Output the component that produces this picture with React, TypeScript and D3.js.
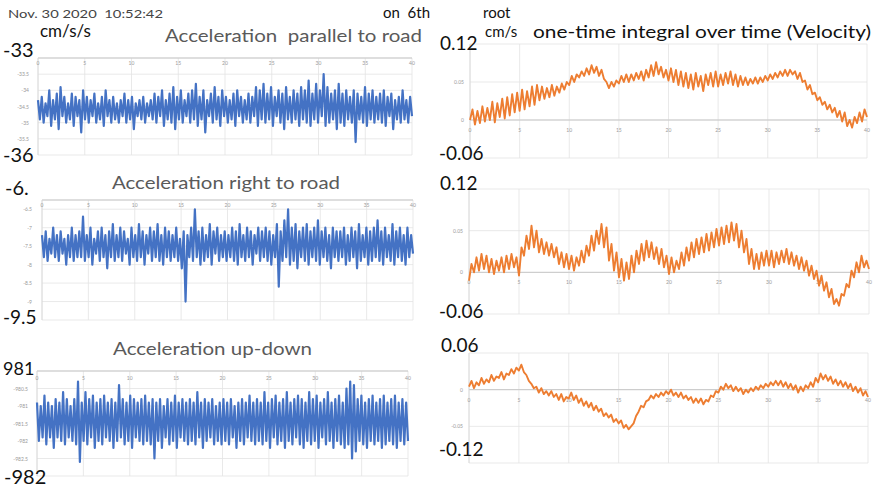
import React from 'react';
import * as d3 from 'd3';

// seconds on the horizontal axis of every panel
const timeTicks = [0, 5, 10, 15, 20, 25, 30, 35, 40];

// acceleration, cm/s/s
const accParallel = [
  -34.3, -34.9, -34.2, -35.0, -34.4, -34.8, -34.0, -35.1, -34.3, -34.9, -34.1, -35.2, -33.9, -34.8, -34.2, -35.0, -34.4, -34.9, -34.1, -35.1,
  -34.2, -34.8, -34.3, -35.3, -34.0, -34.9, -34.2, -35.0, -34.3, -34.8, -34.1, -35.0, -34.4, -34.9, -34.2, -35.1, -34.0, -34.8, -34.3, -35.0,
  -34.2, -34.9, -34.4, -35.0, -34.3, -34.8, -34.1, -35.0, -34.3, -34.9, -34.2, -35.2, -34.4, -34.8, -34.3, -34.9, -34.2, -35.0, -34.4, -34.8,
  -34.3, -34.9, -34.1, -35.0, -34.2, -34.8, -34.0, -35.1, -34.3, -34.9, -34.1, -35.0, -33.9, -35.2, -34.2, -34.9, -34.0, -35.0, -34.3, -34.8,
  -34.1, -35.0, -34.0, -34.9, -33.8, -35.1, -34.2, -34.9, -34.0, -35.3, -34.3, -34.8, -34.1, -35.0, -33.9, -34.9, -34.2, -35.1, -34.0, -34.8,
  -34.2, -35.0, -34.3, -34.9, -34.1, -35.1, -34.0, -34.8, -34.2, -35.0, -34.3, -34.9, -34.1, -35.0, -34.2, -34.8, -33.9, -35.1, -34.0, -34.9,
  -33.8, -35.0, -34.1, -34.9, -33.9, -35.1, -34.2, -34.8, -34.0, -35.0, -34.1, -35.2, -33.9, -34.9, -34.2, -35.0, -34.0, -34.9, -34.1, -35.1,
  -33.9, -34.9, -34.0, -35.0, -33.7, -35.1, -34.1, -34.9, -33.8, -35.0, -34.0, -34.8, -33.5, -35.1, -33.9, -35.0, -34.1, -34.9, -34.0, -35.2,
  -33.8, -35.0, -34.1, -35.1, -34.0, -34.9, -34.2, -35.0, -34.0, -35.6, -34.1, -34.9, -34.2, -35.0, -33.9, -35.1, -34.1, -34.9, -34.0, -35.0,
  -34.2, -34.9, -34.1, -35.0, -34.0, -35.1, -34.2, -34.8, -34.1, -35.2, -34.3, -34.9, -34.2, -35.0, -34.0, -34.9, -34.3, -35.0, -34.2, -34.8,
];

const accRight = [
  -7.2, -7.8, -7.1, -7.9, -7.3, -7.7, -7.0, -7.8, -7.2, -7.9, -7.1, -7.7, -7.3, -8.0, -7.2, -7.8, -7.0, -7.9, -7.2, -7.8,
  -7.1, -7.8, -6.7, -7.9, -7.2, -7.8, -7.0, -8.0, -7.3, -7.7, -7.1, -7.9, -7.0, -7.8, -7.2, -8.1, -7.1, -7.8, -6.9, -7.9,
  -7.2, -7.8, -7.0, -7.9, -7.1, -7.7, -7.3, -8.0, -7.0, -7.8, -7.2, -7.9, -6.9, -7.8, -7.1, -8.0, -7.2, -7.7, -7.0, -7.9,
  -7.1, -7.8, -6.9, -7.9, -7.2, -8.0, -7.0, -7.8, -7.1, -7.9, -7.2, -7.8, -7.0, -7.9, -7.3, -8.1, -7.1, -9.0, -7.2, -7.8,
  -7.0, -7.9, -6.5, -7.8, -7.1, -8.0, -7.0, -7.9, -7.2, -7.8, -6.9, -8.0, -7.1, -7.7, -7.0, -7.9, -7.2, -7.8, -7.1, -7.9,
  -7.2, -7.8, -7.0, -7.9, -7.1, -8.0, -6.9, -7.8, -7.2, -7.9, -7.0, -7.8, -7.1, -8.0, -7.2, -7.7, -7.0, -7.9, -7.1, -7.8,
  -7.0, -7.9, -7.1, -8.0, -7.2, -7.8, -6.9, -8.6, -7.1, -7.9, -6.8, -7.8, -6.5, -8.0, -7.0, -7.9, -6.9, -8.1, -7.1, -7.8,
  -7.0, -7.9, -6.9, -8.0, -7.1, -7.8, -7.0, -7.9, -6.8, -8.0, -7.1, -7.8, -7.0, -7.9, -7.2, -8.1, -7.0, -7.8, -7.1, -7.9,
  -7.1, -7.8, -7.0, -8.0, -7.2, -7.9, -7.0, -7.8, -7.1, -8.1, -6.9, -7.9, -7.2, -7.8, -7.0, -8.0, -7.1, -7.9, -7.0, -7.8,
  -6.8, -7.9, -7.1, -8.0, -7.0, -7.8, -7.2, -7.9, -6.9, -8.0, -7.1, -7.8, -7.0, -7.9, -7.2, -8.0, -7.0, -7.8, -7.2, -7.7,
];

const accUpDown = [
  -980.9, -982.0, -981.0, -981.9, -980.7, -982.1, -980.9, -981.9, -981.0, -982.2, -980.8, -981.9, -980.9, -982.0, -980.6, -982.1, -980.8, -981.9, -981.0, -982.0,
  -980.8, -982.1, -980.3, -982.6, -980.9, -982.0, -980.6, -982.1, -980.8, -981.9, -980.7, -982.2, -980.9, -982.0, -980.8, -982.1, -980.7, -981.9, -980.9, -982.0,
  -980.8, -982.2, -980.9, -982.0, -980.4, -981.9, -980.8, -982.1, -980.9, -982.0, -980.7, -982.2, -980.8, -981.9, -980.9, -982.0, -980.8, -982.1, -980.7, -982.0,
  -980.9, -982.1, -980.8, -982.5, -980.9, -982.0, -980.8, -982.2, -981.0, -981.9, -980.8, -982.1, -980.9, -982.0, -980.7, -982.2, -980.9, -981.9, -980.8, -982.0,
  -980.9, -982.1, -980.8, -982.0, -980.9, -982.1, -980.6, -981.9, -980.9, -982.2, -980.8, -982.0, -980.9, -981.9, -980.8, -982.1, -981.0, -982.0, -980.9, -982.1,
  -980.8, -982.0, -980.9, -982.1, -980.8, -981.9, -981.0, -982.2, -980.9, -982.0, -980.8, -982.1, -980.9, -981.9, -980.7, -982.0, -980.9, -982.1, -980.8, -982.0,
  -980.9, -982.1, -980.6, -982.0, -980.9, -982.2, -980.8, -981.9, -980.7, -982.1, -980.9, -982.0, -980.8, -982.2, -980.6, -982.0, -980.9, -982.1, -980.8, -981.9,
  -980.7, -982.1, -980.8, -982.2, -980.9, -982.0, -980.6, -982.1, -980.8, -982.0, -980.7, -982.2, -980.9, -981.9, -980.8, -982.1, -980.6, -982.0, -980.9, -982.2,
  -980.8, -982.0, -980.7, -982.1, -980.9, -982.2, -980.5, -982.1, -980.3, -982.5, -980.4, -982.3, -980.8, -982.0, -980.7, -982.1, -980.9, -982.2, -980.8, -982.0,
  -980.7, -982.1, -980.9, -982.0, -980.8, -982.2, -980.7, -982.1, -980.9, -982.0, -980.8, -982.1, -980.7, -982.2, -980.9, -982.0, -980.8, -982.1, -980.9, -982.0,
];

// velocity, cm/s (orange traces), 4 readings per second
const velParallel = [
  0.000, 0.014, -0.006, 0.012, -0.004, 0.018, -0.002, 0.016, 0.000, 0.024, -0.003, 0.022, 0.004, 0.028, 0.002, 0.030,
  0.006, 0.034, 0.010, 0.036, 0.012, 0.040, 0.014, 0.038, 0.018, 0.044, 0.020, 0.046, 0.026, 0.044, 0.028, 0.042,
  0.030, 0.046, 0.032, 0.044, 0.036, 0.048, 0.040, 0.050, 0.046, 0.058, 0.050, 0.060, 0.056, 0.064, 0.058, 0.068,
  0.060, 0.072, 0.062, 0.070, 0.058, 0.066, 0.054, 0.050, 0.042, 0.050, 0.044, 0.052, 0.048, 0.058, 0.050, 0.060,
  0.050, 0.060, 0.052, 0.062, 0.054, 0.064, 0.052, 0.066, 0.056, 0.072, 0.058, 0.076, 0.060, 0.070, 0.056, 0.066,
  0.052, 0.068, 0.050, 0.066, 0.046, 0.064, 0.044, 0.062, 0.042, 0.060, 0.040, 0.062, 0.044, 0.058, 0.038, 0.060,
  0.046, 0.062, 0.044, 0.064, 0.044, 0.060, 0.046, 0.062, 0.048, 0.064, 0.046, 0.060, 0.044, 0.058, 0.046, 0.056,
  0.046, 0.054, 0.048, 0.056, 0.048, 0.056, 0.050, 0.058, 0.052, 0.060, 0.054, 0.062, 0.056, 0.064, 0.058, 0.066,
  0.058, 0.066, 0.060, 0.064, 0.054, 0.062, 0.050, 0.052, 0.040, 0.046, 0.034, 0.036, 0.026, 0.030, 0.020, 0.024,
  0.014, 0.020, 0.010, 0.016, 0.004, 0.012, -0.002, 0.010, -0.008, 0.000, -0.010, 0.004, -0.004, 0.010, -0.002, 0.014,
  0.004,
];

const velRight = [
  -0.010, 0.010, 0.000, 0.018, 0.002, 0.022, 0.004, 0.020, 0.000, 0.016, -0.002, 0.014, 0.002, 0.018, 0.000, 0.020,
  0.004, 0.022, 0.006, 0.018, -0.004, 0.030, 0.020, 0.044, 0.028, 0.056, 0.030, 0.050, 0.024, 0.040, 0.022, 0.036,
  0.020, 0.034, 0.018, 0.030, 0.010, 0.024, 0.006, 0.022, 0.004, 0.020, 0.002, 0.018, 0.008, 0.026, 0.012, 0.032,
  0.020, 0.044, 0.026, 0.050, 0.034, 0.058, 0.030, 0.054, 0.014, 0.034, 0.002, 0.024, -0.006, 0.016, -0.010, 0.012,
  -0.008, 0.020, 0.000, 0.026, 0.010, 0.034, 0.014, 0.038, 0.018, 0.036, 0.016, 0.030, 0.010, 0.028, 0.006, 0.020,
  -0.002, 0.018, 0.000, 0.014, 0.004, 0.024, 0.008, 0.030, 0.014, 0.036, 0.018, 0.040, 0.022, 0.042, 0.024, 0.046,
  0.026, 0.048, 0.030, 0.052, 0.032, 0.054, 0.034, 0.056, 0.036, 0.060, 0.038, 0.058, 0.030, 0.050, 0.024, 0.040,
  0.010, 0.028, 0.004, 0.022, 0.004, 0.024, 0.008, 0.026, 0.008, 0.026, 0.006, 0.024, 0.010, 0.026, 0.012, 0.028,
  0.010, 0.024, 0.008, 0.020, 0.004, 0.018, 0.002, 0.014, -0.004, 0.008, -0.008, 0.002, -0.016, -0.004, -0.022, -0.012,
  -0.030, -0.020, -0.038, -0.032, -0.040, -0.026, -0.028, -0.014, -0.018, 0.002, -0.006, 0.012, 0.000, 0.020, 0.006, 0.014,
  0.004,
];

const velUpDown = [
  0.004, 0.012, 0.002, 0.010, 0.006, 0.016, 0.008, 0.014, 0.010, 0.020, 0.012, 0.018, 0.016, 0.024, 0.014, 0.022,
  0.020, 0.028, 0.022, 0.030, 0.026, 0.034, 0.024, 0.020, 0.012, 0.008, 0.002, 0.004, -0.004, 0.002, -0.006, -0.002,
  -0.008, -0.002, -0.010, -0.006, -0.014, -0.006, -0.016, -0.010, -0.012, -0.004, -0.014, -0.008, -0.018, -0.012, -0.022, -0.016,
  -0.024, -0.018, -0.028, -0.022, -0.030, -0.026, -0.036, -0.032, -0.038, -0.034, -0.044, -0.040, -0.046, -0.042, -0.052, -0.048,
  -0.054, -0.050, -0.046, -0.036, -0.030, -0.022, -0.024, -0.016, -0.014, -0.008, -0.012, -0.006, -0.010, -0.004, -0.008, -0.002,
  -0.006, 0.000, -0.008, -0.004, -0.010, -0.004, -0.012, -0.008, -0.014, -0.010, -0.018, -0.012, -0.018, -0.012, -0.020, -0.014,
  -0.016, -0.008, -0.010, -0.002, -0.004, 0.004, 0.000, 0.008, 0.002, 0.006, -0.002, 0.004, -0.002, 0.002, -0.006, 0.000,
  -0.004, 0.002, -0.002, 0.004, 0.000, 0.006, 0.002, 0.008, 0.004, 0.010, 0.006, 0.012, 0.006, 0.012, 0.004, 0.010,
  0.002, 0.008, 0.000, 0.006, -0.004, 0.004, -0.002, 0.006, 0.002, 0.010, 0.004, 0.016, 0.010, 0.022, 0.014, 0.020,
  0.012, 0.018, 0.008, 0.014, 0.006, 0.012, 0.004, 0.010, 0.002, 0.008, -0.002, 0.004, -0.004, 0.002, -0.008, -0.002,
  -0.010,
];

const parallelTicks = [-33, -33.5, -34, -34.5, -35, -35.5, -36];
const rightTicks = [-6.25, -6.5, -7, -7.5, -8, -8.5, -9, -9.5];
const upDownTicks = [-980, -980.5, -981, -981.5, -982, -982.5, -983];
const velTicksHigh = [0.1, 0.05, 0, -0.05];
const velTicksLow = [0.05, 0, -0.05, -0.1];

const BLUE = '#4472c4';
const ORANGE = '#ed7d31';
const GRID = '#e3e3e3';

function Panel({ values, x0, x1, y0, y1, domain, yTicks, axisAt, color, width, yLabelX, xLabelGap }) {
  const x = d3.scaleLinear().domain([0, 40]).range([x0, x1]);
  const y = d3.scaleLinear().domain(domain).range([y1, y0]);
  const n = values.length;
  const line = d3.line<number>()
    .x((_, i) => x((i * 40) / (n - 1)))
    .y(d => y(d));
  const axisY = y(axisAt);
  // the first and last tick labels sit under the large hand-written numbers
  const labelled = yTicks.slice(1, -1);
  return (
    <g>
      {yTicks.map(t => (
        <line key={'h' + t} x1={x0} x2={x1} y1={y(t)} y2={y(t)} stroke={GRID} strokeWidth={0.8} />
      ))}
      {timeTicks.map(t => (
        <line key={'v' + t} x1={x(t)} x2={x(t)} y1={y0} y2={y1} stroke={GRID} strokeWidth={0.8} />
      ))}
      <line x1={x0} x2={x1} y1={axisY} y2={axisY} stroke="#c8c8c8" strokeWidth={1} />
      <line x1={x0} x2={x0} y1={y0} y2={y1} stroke="#d8d8d8" strokeWidth={0.8} />
      {timeTicks.map(t => (
        <text key={'xl' + t} x={x(t)} y={axisY + xLabelGap} fontSize={5} fill="#9a9a9a" textAnchor="middle">
          {t}
        </text>
      ))}
      {labelled.map(t => (
        <text key={'yl' + t} x={yLabelX} y={y(t) + 2} fontSize={5} fill="#9a9a9a" textAnchor="end">
          {t}
        </text>
      ))}
      <path d={line(values) || ''} fill="none" stroke={color} strokeWidth={width} strokeLinejoin="round" />
    </g>
  );
}

export default function App() {
  const big = { fontFamily: 'Lato, "Open Sans", sans-serif', fill: '#111' };
  const title = { fontFamily: 'Lato, "Open Sans", sans-serif', fill: '#5a5a5a' };
  return (
    <svg width={873} height={490} style={{ position: 'absolute', left: 0, top: 0, background: '#fff' }}
      fontFamily='Lato, "Open Sans", sans-serif'>
      <rect width={873} height={490} fill="#fff" />

      <Panel values={accParallel} x0={38} x1={412} y0={58} y1={155} domain={[-36, -33]}
        yTicks={parallelTicks} axisAt={-33} color={BLUE} width={2.2} yLabelX={29} xLabelGap={7} />
      <Panel values={accRight} x0={42} x1={413} y0={200} y1={320} domain={[-9.5, -6.25]}
        yTicks={rightTicks} axisAt={-6.25} color={BLUE} width={2.2} yLabelX={32} xLabelGap={7} />
      <Panel values={accUpDown} x0={37} x1={408} y0={371} y1={476} domain={[-983, -980]}
        yTicks={upDownTicks} axisAt={-980} color={BLUE} width={2.2} yLabelX={28} xLabelGap={9} />

      <Panel values={velParallel} x0={470} x1={867} y0={44} y1={158} domain={[-0.05, 0.1]}
        yTicks={velTicksHigh} axisAt={0} color={ORANGE} width={1.9} yLabelX={464} xLabelGap={12} />
      <Panel values={velRight} x0={469} x1={869} y0={189} y1={314} domain={[-0.05, 0.1]}
        yTicks={velTicksHigh} axisAt={0} color={ORANGE} width={1.9} yLabelX={463} xLabelGap={12} />
      <Panel values={velUpDown} x0={469} x1={868} y0={353} y1={463} domain={[-0.1, 0.05]}
        yTicks={velTicksLow} axisAt={0} color={ORANGE} width={1.9} yLabelX={463} xLabelGap={12} />

      <text x={8} y={18} fontSize={11} fill="#444" textLength={155} lengthAdjust="spacingAndGlyphs" xmlSpace="preserve">
        Nov. 30 2020  10:52:42
      </text>
      <text x={383} y={18} fontSize={15} style={big} xmlSpace="preserve">on  6th</text>
      <text x={483} y={18} fontSize={15} style={big}>root</text>
      <text x={40} y={37} fontSize={17} style={big}>cm/s/s</text>
      <text x={485} y={37} fontSize={15} style={big}>cm/s</text>
      <text x={165} y={42} fontSize={18} style={title} textLength={257} lengthAdjust="spacingAndGlyphs" xmlSpace="preserve">
        Acceleration  parallel to road
      </text>
      <text x={112} y={189} fontSize={18} style={title} textLength={228} lengthAdjust="spacingAndGlyphs">
        Acceleration right to road
      </text>
      <text x={113} y={355} fontSize={18} style={title} textLength={199} lengthAdjust="spacingAndGlyphs">
        Acceleration up-down
      </text>
      <text x={533} y={38} fontSize={17} style={big} textLength={338} lengthAdjust="spacingAndGlyphs">
        one-time integral over time (Velocity)
      </text>

      <text x={3} y={57} fontSize={20} style={big}>-33</text>
      <text x={3} y={162} fontSize={20} style={big}>-36</text>
      <text x={5} y={195} fontSize={20} style={big}>-6.</text>
      <text x={3} y={324} fontSize={19} style={big}>-9.5</text>
      <text x={3} y={375} fontSize={18} style={big}>981</text>
      <text x={4} y={484} fontSize={20} style={big}>-982</text>

      <text x={440} y={50} fontSize={19} style={big}>0.12</text>
      <text x={439} y={160} fontSize={19} style={big}>-0.06</text>
      <text x={440} y={190} fontSize={19} style={big}>0.12</text>
      <text x={439} y={318} fontSize={19} style={big}>-0.06</text>
      <text x={441} y={352} fontSize={19} style={big}>0.06</text>
      <text x={439} y={456} fontSize={19} style={big}>-0.12</text>
    </svg>
  );
}
